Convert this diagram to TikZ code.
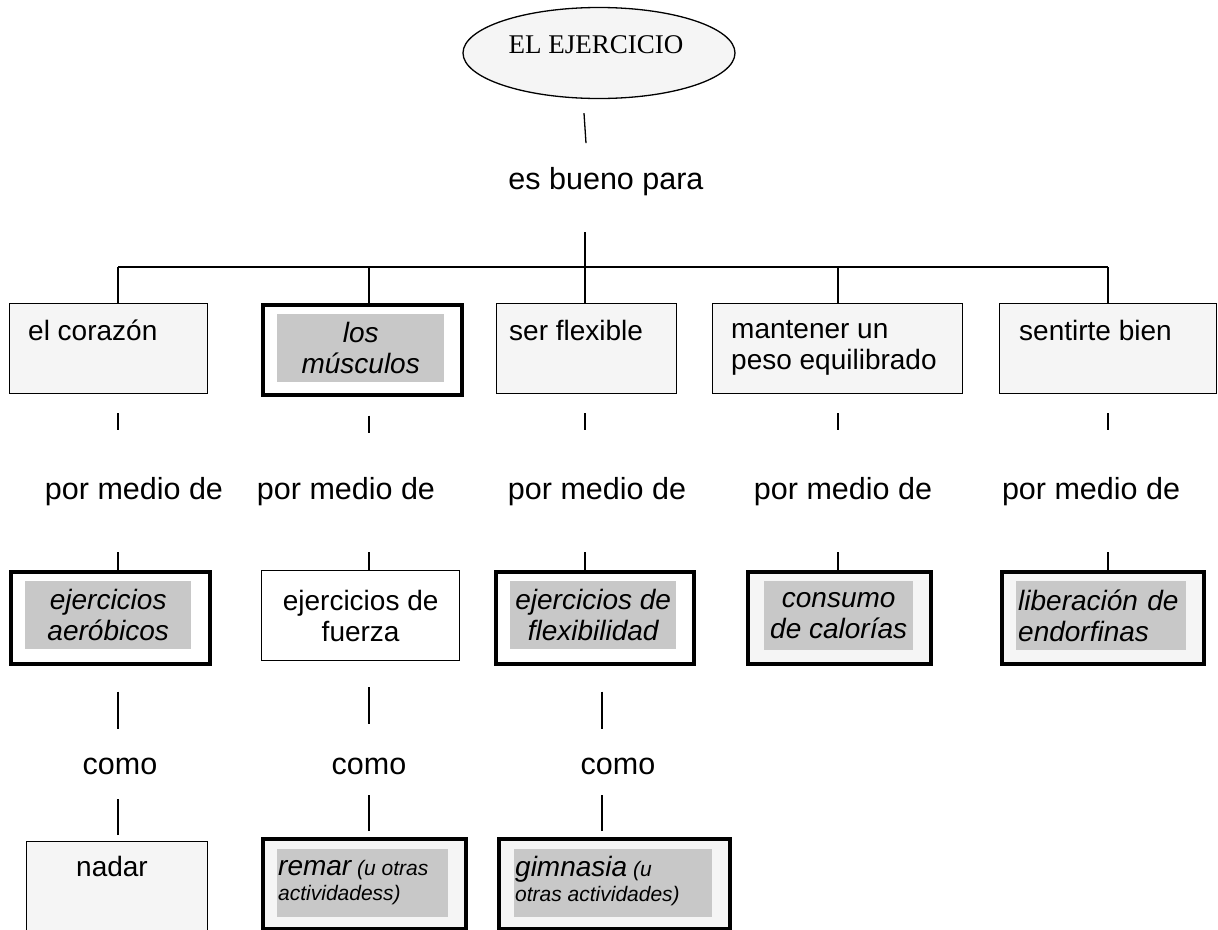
\documentclass[tikz,border=0pt]{standalone}
\usepackage{fontspec}
\setmainfont{Liberation Sans}
\newfontfamily\timesfont{Liberation Serif}
\usetikzlibrary{calc,positioning,shapes.geometric}
\definecolor{palegray}{RGB}{245,245,245}
\definecolor{innergray}{RGB}{200,200,200}
\newcommand{\bigsz}{\fontsize{28}{31}\selectfont}
\newcommand{\linksz}{\fontsize{30.5}{34}\selectfont}
\newcommand{\smallsz}{\fontsize{21}{25}\selectfont}
\tikzset{
    linesty/.style={line width=1.3pt},
    topsty/.style={ellipse,draw,line width=1.3pt,fill=palegray,minimum width=272pt,minimum height=91pt,inner sep=0pt},
    thinsty/.style={draw,line width=1.3pt,fill=palegray,rectangle,anchor=north west,inner sep=0pt},
    whitesty/.style={thinsty,fill=white},
    boldsty/.style={thinsty,line width=3.6pt,fill=white},
    boldpsty/.style={boldsty,fill=palegray},
    graysty/.style={fill=innergray,rectangle,anchor=north west,inner sep=0pt,font=\bigsz\itshape,align=center},
    wordsty/.style={font=\linksz,inner sep=0pt},
    textsty/.style={font=\bigsz,anchor=west,align=left,inner sep=0pt},
    smtxtsty/.style={font=\smallsz\itshape,anchor=west,align=left,inner sep=0pt},
}

\begin{document}
\begin{tikzpicture}[x=1pt,y=-1pt]
\clip (0,0) rectangle (1218,929);

% head
\node[topsty] (top) at (599,53) {};
\node[font=\timesfont\fontsize{27}{30}\selectfont,inner sep=0pt] (toptxt) at (596,45) {EL EJERCICIO};
\node[wordsty] (esb) at (606,182) {es bueno para};

% first row
\node[thinsty,minimum width=198pt,minimum height=90pt] (c1) at (9,303) {};
\node[textsty] (c1t) at (28,330) {el corazón};
\node[boldsty,minimum width=199pt,minimum height=90pt] (c2) at (261,303) {};
\node[graysty,minimum width=167pt,minimum height=68pt] (c2t) at (277,314) {los\\músculos};
\node[thinsty,minimum width=180pt,minimum height=90pt] (c3) at (496,303) {};
\node[textsty] (c3t) at (509,330) {ser flexible};
\node[thinsty,minimum width=250pt,minimum height=90pt] (c4) at (712,303) {};
\node[textsty] (c4t) at (731,348) {mantener un\\peso equilibrado};
\node[thinsty,minimum width=217pt,minimum height=90pt] (c5) at (999,303) {};
\node[textsty] (c5t) at (1019,330) {sentirte bien};

\foreach \x [count=\i] in {134,346,597,843,1091}
  \node[wordsty] (pm\i) at (\x,492) {por medio de};

% second row
\node[boldsty,minimum width=199pt,minimum height=92pt] (d1) at (9,570) {};
\node[graysty,minimum width=166pt,minimum height=68pt] (d1t) at (25,581) {ejercicios\\aeróbicos};
\node[whitesty,minimum width=198pt,minimum height=90pt] (d2) at (261,570) {};
\node[textsty,align=center,anchor=center] (d2t) at (d2.center) {ejercicios de\\fuerza};
\node[boldsty,minimum width=198pt,minimum height=92pt] (d3) at (494,570) {};
\node[graysty,minimum width=166pt,minimum height=68pt] (d3t) at (510,581) {ejercicios de\\flexibilidad};
\node[boldpsty,minimum width=183pt,minimum height=92pt] (d4) at (746,570) {};
\node[graysty,minimum width=149pt,minimum height=69pt] (d4t) at (764,581) {consumo\\de calorías};
\node[boldpsty,minimum width=202pt,minimum height=92pt] (d5) at (1000,570) {};
\node[graysty,minimum width=170pt,minimum height=69pt,inner xsep=2pt,text width=166pt,align=left] (d5t) at (1016,581) {liberación de\\endorfinas};

\foreach \x [count=\i] in {120,369,618}
  \node[wordsty] (co\i) at (\x,766) {como};

% third row
\node[thinsty,minimum width=181pt,minimum height=110pt] (e1) at (26,841) {};
\node[textsty,anchor=center] (e1t) at (112,866) {nadar};
\node[boldpsty,minimum width=203pt,minimum height=90pt] (e2) at (261,837) {};
\node[graysty,minimum width=171pt,minimum height=68pt] (e2g) at (277,849) {};
\node[smtxtsty] (e2t) at (278,883) {{\bigsz remar} (u otras\\actividadess)};
\node[boldpsty,minimum width=231pt,minimum height=90pt] (e3) at (497,837) {};
\node[graysty,minimum width=198pt,minimum height=68pt] (e3g) at (514,849) {};
\node[smtxtsty] (e3t) at (515,881) {{\bigsz gimnasia} (u\\otras actividades)};

% links
\foreach \x [count=\i] in {118,369,585,838,1108}
  \coordinate (k\i) at (\x,267);
\foreach \x [count=\i] in {118,369,602}
  \coordinate (j\i) at (\x,700);
\draw[linesty] ($(top.south)+(-15pt,-14pt)$) -- ++(2pt,-30pt);
\draw[linesty] (k3) -- ++(0pt,35pt);
\draw[linesty] (k1) -- (k5);
\foreach \i in {1,...,5} {
  \draw[linesty] (k\i) -- (k\i |- c\i.north);
  \draw[linesty] ($(k\i |- c\i.south)+(0pt,-19pt)$) -- ++(0pt,-17pt);
  \draw[linesty] ($(k\i |- d\i.north)+(0pt,18pt)$) -- (k\i |- d\i.north);
}
\foreach \i in {1,2,3} {
  \draw[linesty] ($(j\i |- d\i.south)+(0pt,-26pt)$) -- ++(0pt,-37pt);
  \draw[linesty] ($(j\i |- e\i.north)+(0pt,6pt)$) -- ++(0pt,36pt);
}
\end{tikzpicture}
\end{document}
